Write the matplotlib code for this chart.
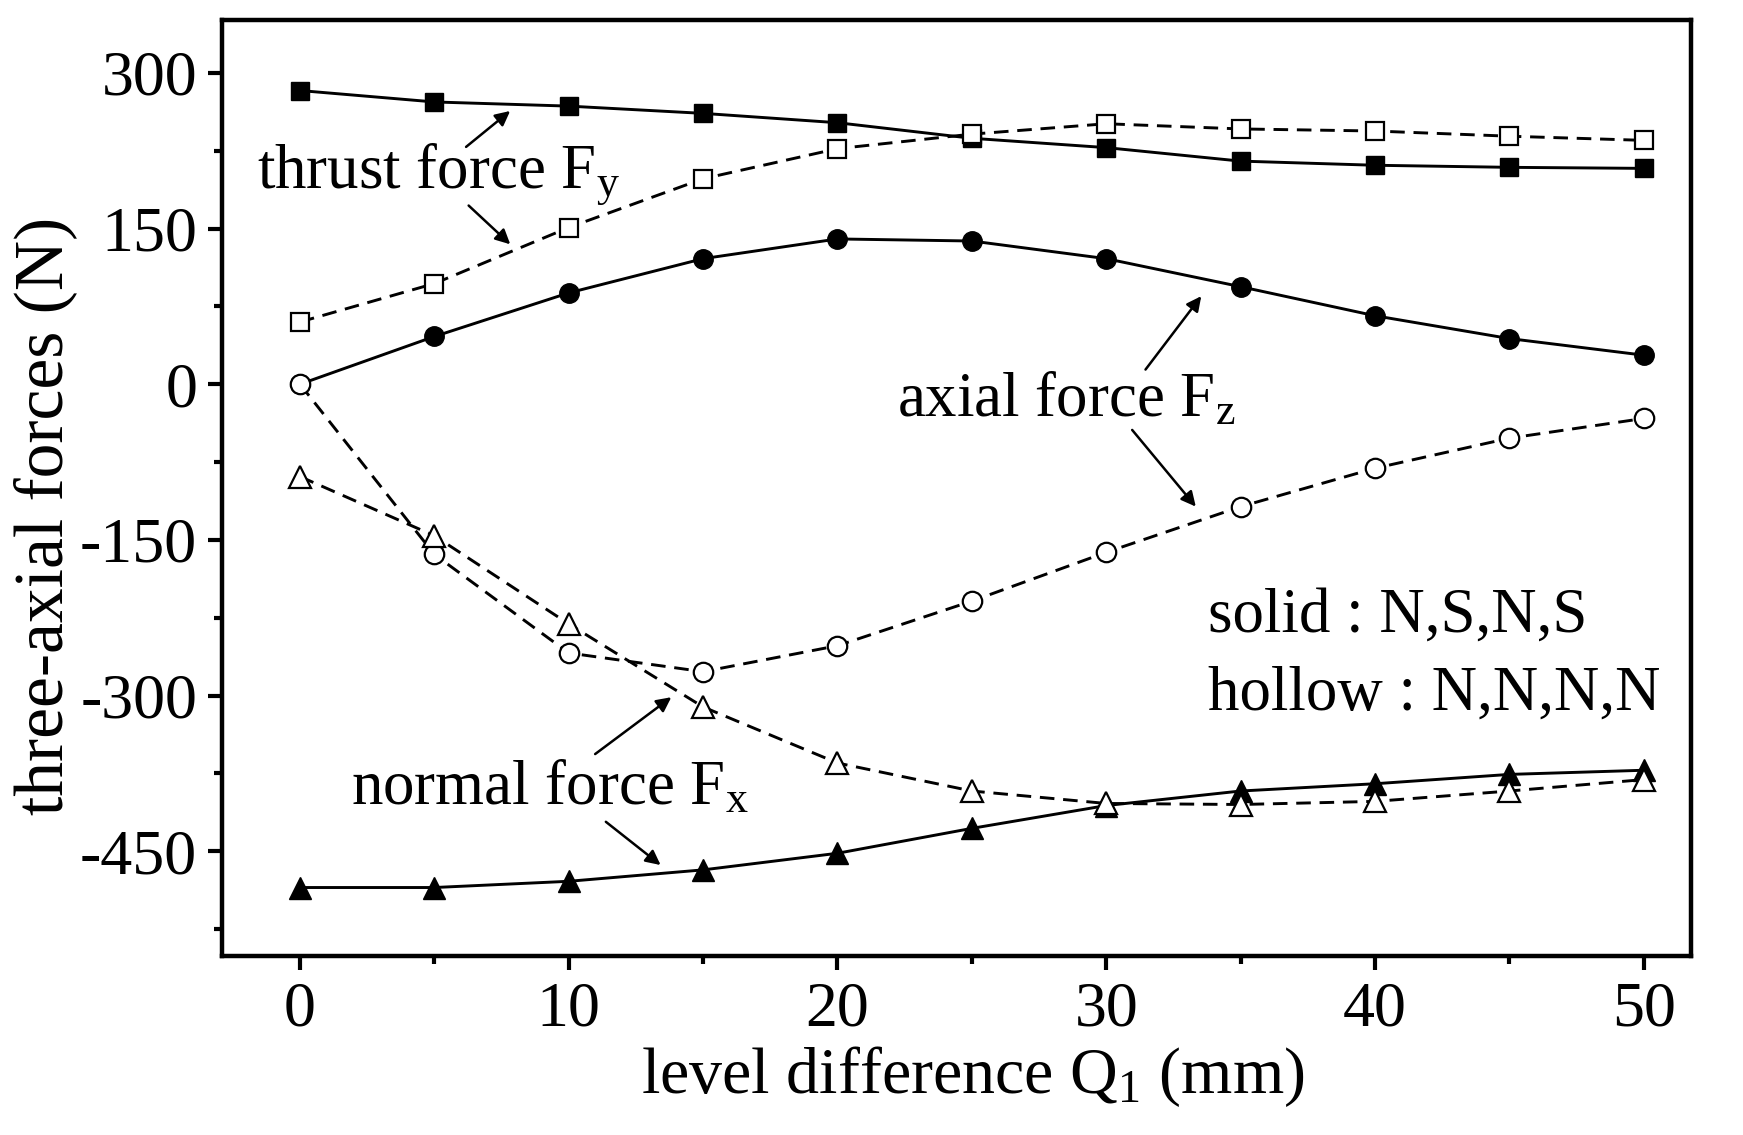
import numpy as np
import matplotlib
matplotlib.use('Agg')
import matplotlib.pyplot as plt
from matplotlib.ticker import MultipleLocator

plt.rcParams['font.family'] = ['Liberation Serif', 'DejaVu Serif']
plt.rcParams['mathtext.fontset'] = 'custom'
plt.rcParams['mathtext.rm'] = 'Liberation Serif'
plt.rcParams['mathtext.it'] = 'Liberation Serif:italic'
plt.rcParams['axes.unicode_minus'] = False

q1 = [0, 5, 10, 15, 20, 25, 30, 35, 40, 45, 50]

# solid : N,S,N,S
fy_solid = [283, 272, 268, 261, 252, 237, 228, 215, 211, 209, 208]
fz_solid = [0, 46, 88, 121, 140, 138, 121, 94, 66, 44, 28]
fx_solid = [-485, -485, -479, -468, -452, -428, -406, -392, -385, -376, -372]

# hollow : N,N,N,N
fy_hollow = [60, 97, 151, 198, 227, 241, 251, 246, 244, 239, 235]
fz_hollow = [0, -164, -259, -277, -252, -209, -162, -118, -81, -52, -33]
fx_hollow = [-89, -146, -231, -311, -365, -392, -404, -405, -402, -392, -381]

fig = plt.figure(figsize=(17.43, 11.35), dpi=100)
ax = fig.add_axes([0.1274, 0.1577, 0.8426, 0.8247])

dash = (0, (5, 3))
lw = 2.1
ax.plot(q1, fy_solid, '-', color='k', lw=lw, marker='s', ms=13, mfc='k', mec='k')
ax.plot(q1, fy_hollow, linestyle=dash, color='k', lw=lw, marker='s', ms=13, mfc='white', mec='k', mew=1.6)
ax.plot(q1, fz_solid, '-', color='k', lw=lw, marker='o', ms=14, mfc='k', mec='k')
ax.plot(q1, fz_hollow, linestyle=dash, color='k', lw=lw, marker='o', ms=14, mfc='white', mec='k', mew=1.6)
ax.plot(q1, fx_solid, '-', color='k', lw=lw, marker='^', ms=16, mfc='k', mec='k')
ax.plot(q1, fx_hollow, linestyle=dash, color='k', lw=lw, marker='^', ms=16, mfc='white', mec='k', mew=1.6)

ax.set_xlim(-2.9, 51.75)
ax.set_ylim(-551, 351)
ax.xaxis.set_major_locator(MultipleLocator(10))
ax.xaxis.set_minor_locator(MultipleLocator(5))
ax.yaxis.set_major_locator(MultipleLocator(150))
ax.yaxis.set_minor_locator(MultipleLocator(75))
ax.tick_params(which='major', direction='out', length=10, width=3, labelsize=46, pad=8)
ax.tick_params(which='minor', direction='out', length=6, width=3)
ax.tick_params(top=False, right=False)
for s in ax.spines.values():
    s.set_linewidth(3.2)

ax.set_xlabel(r'level difference Q$_1$ (mm)', fontsize=47.5, labelpad=4)
ax.set_ylabel('three-axial forces (N)', fontsize=50, labelpad=2)
ax.xaxis.label.set_x(0.511)
ax.yaxis.label.set_y(0.47)

arrow = dict(arrowstyle='-|>', color='k', lw=1.8, mutation_scale=22)
fs = 45.3
ax.annotate('', xy=(7.9, 265), xytext=(6.1, 227), arrowprops=arrow)
ax.annotate('', xy=(7.9, 133), xytext=(6.2, 174), arrowprops=arrow)
ax.text(-1.6, 203, r'thrust force F$_\mathrm{y}$', fontsize=fs, va='center')

ax.annotate('', xy=(33.6, 87), xytext=(31.4, 12), arrowprops=arrow)
ax.annotate('', xy=(33.4, -120), xytext=(30.9, -42), arrowprops=arrow)
ax.text(22.2, -16, r'axial force F$_\mathrm{z}$', fontsize=fs, va='center')

ax.annotate('', xy=(13.9, -300), xytext=(10.9, -358), arrowprops=arrow)
ax.annotate('', xy=(13.5, -465), xytext=(11.3, -420), arrowprops=arrow)
ax.text(1.9, -390, r'normal force F$_\mathrm{x}$', fontsize=fs, va='center')

ax.text(33.8, -224, 'solid : N,S,N,S', fontsize=fs, va='center')
ax.text(33.8, -299, 'hollow : N,N,N,N', fontsize=fs, va='center')

fig.savefig('out.png', dpi=100)
